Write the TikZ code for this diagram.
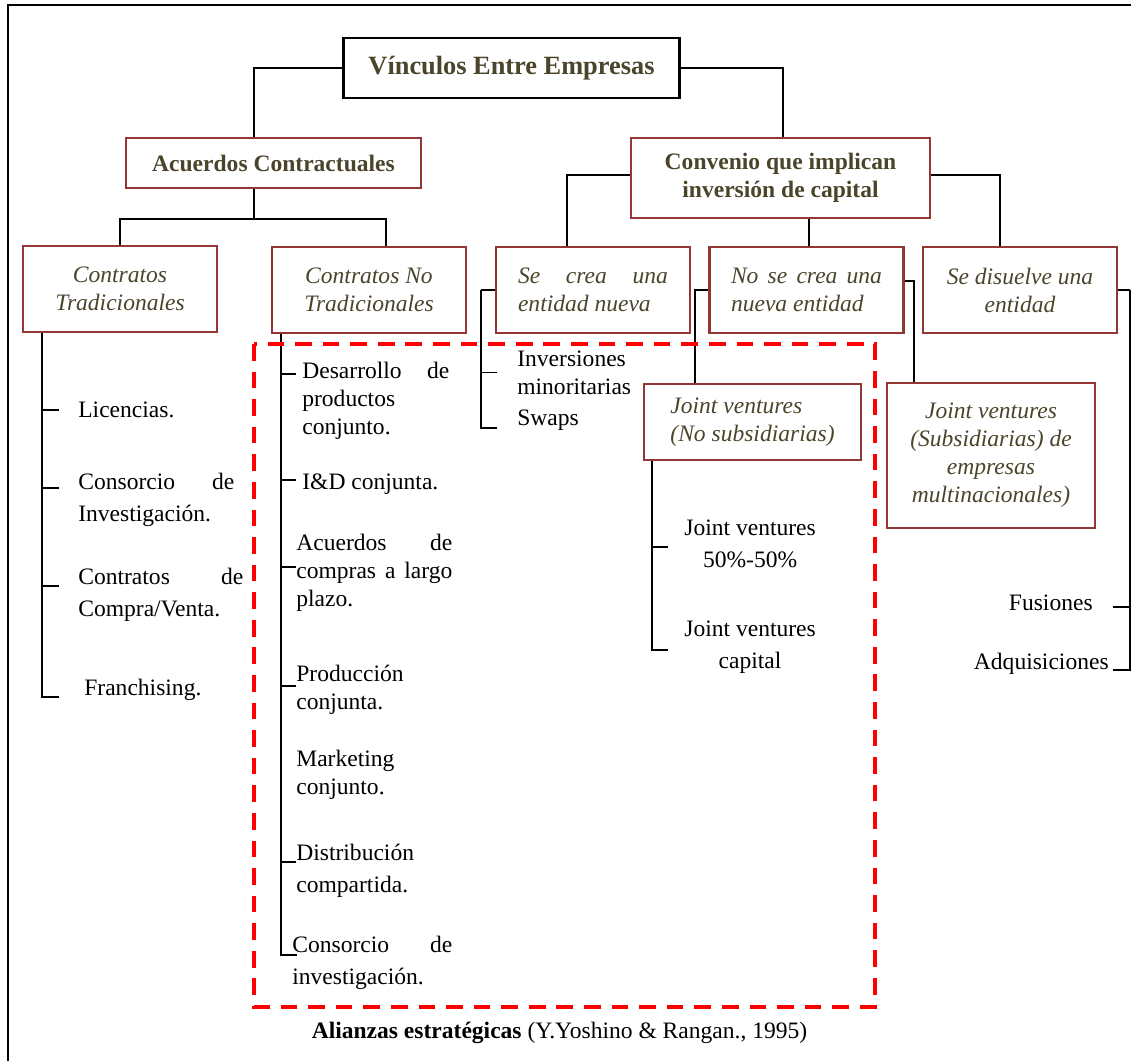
\documentclass[tikz,border=0pt]{standalone}
\usepackage{fontspec}
\setmainfont{Liberation Serif}
\definecolor{rojocaja}{HTML}{943634}
\definecolor{oliva}{HTML}{4A452A}

\begin{document}
\begin{tikzpicture}[x=0.02cm, y=-0.02cm,
    every node/.style={inner sep=0pt, font=\fontsize{13.4}{15.9}\selectfont},
    linea/.style={line width=0.95pt},
    raiz/.style={draw, line width=1.7pt, minimum width=6.74cm, minimum height=1.2cm, text=oliva, font=\fontsize{15}{18}\selectfont\bfseries},
    grupo/.style={draw=rojocaja, line width=1.2pt, text=oliva, align=center, font=\fontsize{13.4}{15.9}\selectfont\bfseries},
    tipo/.style={draw=rojocaja, line width=1.2pt, text=oliva, align=center, minimum width=3.88cm, minimum height=1.72cm, font=\fontsize{13.4}{15.9}\selectfont\itshape},
    item/.style={anchor=west, align=left},
    alianza/.style={draw=red, line width=2.2pt, dash pattern=on 9.5pt off 6.2pt}
  ]
        \useasboundingbox (0,0) rectangle (1131,1061);

        % Marco exterior
        \draw[linea] (8,1061) -- (8,5) -- (1131,5);

        % Nodo raiz
        \node[raiz](vinculos) at (511.5,68) {Vínculos Entre Empresas};

        % Segundo nivel
        \node[grupo, minimum width=5.9cm, minimum height=1cm](acuerdos) at (273.5,163) {Acuerdos Contractuales};
        \node[grupo, minimum width=5.98cm, minimum height=1.6cm](convenio) at (780.5,178) {Convenio que implican\\inversión de capital};

        % Tercer nivel
        \node[tipo](tradicionales) at (120,289) {Contratos\\Tradicionales};
        \node[tipo](notradicionales) at (369,290) {Contratos No\\Tradicionales};
        \node[tipo, align=left](secrea) at (593,290) {\makebox[3cm][s]{Se crea una}\\entidad nueva};
        \node[tipo, align=left](nosecrea) at (806.5,290) {\makebox[3.02cm][s]{No se crea una}\\nueva entidad};
        \node[tipo](disuelve) at (1020,290) {Se disuelve una\\entidad};

        % Joint ventures
        \node[tipo, align=left, minimum width=4.34cm, minimum height=1.52cm](jvno) at (752.5,422) {Joint ventures\\(No subsidiarias)};
        \node[tipo, minimum width=4.16cm, minimum height=2.9cm](jvsub) at (991,455.5) {Joint ventures\\(Subsidiarias) de\\empresas\\multinacionales)};

        % Contratos tradicionales
        \node[item](licencias) at (78,410) {Licencias.};
        \node[item](consorcioT) at (78,499.5) {\makebox[3.12cm][s]{Consorcio de}\\[2.3pt]Investigación.};
        \node[item](compraventa) at (78,594.5) {\makebox[3.3cm][s]{Contratos de}\\[2.3pt]Compra/Venta.};
        \node[item](franchising) at (84,690) {Franchising.};

        % Contratos no tradicionales
        \node[item](desarrollo) at (302,401) {\makebox[2.94cm][s]{Desarrollo de}\\productos\\conjunto.};
        \node[item](iyd) at (302,484) {I\&D conjunta.};
        \node[item](compras) at (296,573) {\makebox[3.12cm][s]{Acuerdos de}\\\makebox[3.12cm][s]{compras a largo}\\plazo.};
        \node[item](produccion) at (296,689.5) {Producción\\conjunta.};
        \node[item](marketing) at (296,775) {Marketing\\conjunto.};
        \node[item](distribucion) at (296,871) {Distribución\\[2.3pt]compartida.};
        \node[item](consorcioN) at (292,962.5) {\makebox[3.2cm][s]{Consorcio de}\\[2.3pt]investigación.};

        % Se crea una entidad nueva
        \node[item](inversiones) at (517,372.5) {Inversiones\\minoritarias};
        \node[item](swaps) at (517,420) {Swaps};

        % Joint ventures no subsidiarias
        \node[item, align=center](jv5050) at (684,544) {Joint ventures\\[2.3pt]50\%-50\%};
        \node[item, align=center](jvcapital) at (684,647.5) {Joint ventures\\[2.3pt]capital};

        % Se disuelve una entidad
        \node[anchor=east](fusiones) at (1093,603) {Fusiones};
        \node[anchor=east](adquisiciones) at (1109,664) {Adquisiciones};

        % Collegamenti dal nodo raiz
        \draw[linea] (vinculos.west) -| ([xshift=-0.39cm]acuerdos.north);
        \draw[linea] (vinculos.east) -| ([xshift=0.05cm]convenio.north);

        % Acuerdos contractuales
        \coordinate (ac) at ([xshift=-0.39cm,yshift=-0.6cm]acuerdos.south);
        \draw[linea] ([xshift=-0.39cm]acuerdos.south) -- (ac);
        \draw[linea] (tradicionales.north) |- (ac) -| ([xshift=0.34cm]notradicionales.north);

        % Convenio
        \draw[linea] ([yshift=0.06cm]convenio.west) -| ([xshift=-0.52cm]secrea.north);
        \draw[linea] ([xshift=0.57cm]convenio.south) -- ([xshift=0.05cm]nosecrea.north);
        \draw[linea] ([yshift=0.06cm]convenio.east) -| ([xshift=-0.4cm]disuelve.north);

        % Ramas contratos tradicionales
        \coordinate (ct) at ([xshift=0.4cm]tradicionales.south west);
        \foreach \n/\dx/\dy in {licencias/-0.38/0, consorcioT/-0.38/0.23, compraventa/-0.38/0.17, franchising/-0.5/-0.14}
            \draw[linea] (ct) |- ([xshift=\dx cm, yshift=\dy cm]\n.west);

        % Ramas contratos no tradicionales
        \coordinate (cn) at ([xshift=0.2cm]notradicionales.south west);
        \foreach \n/\dx/\dy in {desarrollo/-0.12/0.54, iyd/-0.12/0.08, compras/0/0.12, produccion/0/0.07, distribucion/0/0.18, consorcioN/0.1/0.15}
            \draw[linea] (cn) |- ([xshift=\dx cm, yshift=\dy cm]\n.west);

        % Ramas se crea
        \coordinate (sc) at ([xshift=-0.28cm]secrea.west);
        \draw[linea] (secrea.west) -- (sc);
        \foreach \n/\dy in {inversiones/0, swaps/-0.16}
            \draw[linea] (sc) |- ([xshift=-0.4cm, yshift=\dy cm]\n.west);

        % Ramas no se crea
        \draw[linea] (nosecrea.west) -| ([xshift=-1.15cm]jvno.north);
        \draw[linea] ([yshift=0.18cm]nosecrea.east) -| ([xshift=-1.54cm]jvsub.north);

        % Ramas joint ventures
        \coordinate (jn) at ([xshift=0.18cm]jvno.south west);
        \foreach \n/\dy in {jv5050/-0.06, jvcapital/-0.05}
            \draw[linea] (jn) |- ([xshift=-0.32cm, yshift=\dy cm]\n.west);

        % Ramas se disuelve
        \coordinate (sd) at ([xshift=0.24cm]disuelve.east);
        \draw[linea] (disuelve.east) -- (sd);
        \draw[linea] (sd) |- ([xshift=0.4cm, yshift=-0.08cm]fusiones.east);
        \draw[linea] (sd) |- ([xshift=0.08cm, yshift=-0.12cm]adquisiciones.east);

        % Alianzas estrategicas
        \draw[alianza] (254,344) rectangle (875,1007);
        \node(caption) at (559.5,1033) {\textbf{Alianzas estratégicas} (Y.Yoshino \& Rangan., 1995)};
    \end{tikzpicture}
\end{document}
